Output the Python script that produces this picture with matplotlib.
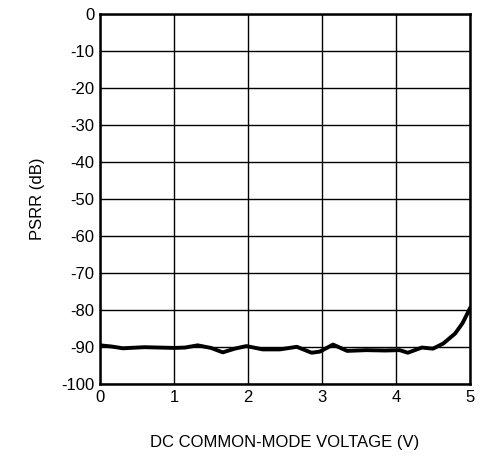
import numpy as np
from matplotlib import pyplot as plt

plt.rcParams['font.family'] = ['Liberation Sans', 'DejaVu Sans']
plt.rcParams['axes.unicode_minus'] = False

# PSRR vs DC common-mode voltage
voltage = [0.0, 0.15, 0.31, 0.6, 1.0, 1.15, 1.32, 1.5, 1.66, 1.82, 1.98, 2.2,
           2.43, 2.66, 2.86, 2.97, 3.15, 3.34, 3.6, 3.85, 4.05, 4.16, 4.35,
           4.5, 4.64, 4.8, 4.9, 5.0]
psrr = [-89.5, -89.8, -90.3, -90.0, -90.2, -90.1, -89.5, -90.2, -91.4, -90.4,
        -89.7, -90.6, -90.6, -89.9, -91.5, -91.2, -89.3, -91.0, -90.8, -90.9,
        -90.8, -91.5, -90.1, -90.4, -89.0, -86.3, -83.5, -79.5]

x_ticks = [0, 1, 2, 3, 4, 5]
y_ticks = list(range(-100, 1, 10))

fig = plt.figure(figsize=(4.83, 4.59), dpi=100)
ax = fig.add_axes([0.207, 0.163, 0.766, 0.806])

ax.plot(voltage, psrr, color='black', lw=2.8)

ax.set_xlim(0, 5)
ax.set_ylim(-100, 0)
ax.set_xticks(x_ticks)
ax.set_yticks(y_ticks)
ax.grid(True, color='black', lw=1)
ax.tick_params(direction='in', length=0, labelsize=12, pad=4)
for sp in ax.spines.values():
    sp.set_linewidth(1.8)

ax.set_xlabel('DC COMMON-MODE VOLTAGE (V)', fontsize=12, labelpad=22)
ax.set_ylabel('PSRR (dB)', fontsize=12, labelpad=12)

fig.savefig('out.png', dpi=100)
